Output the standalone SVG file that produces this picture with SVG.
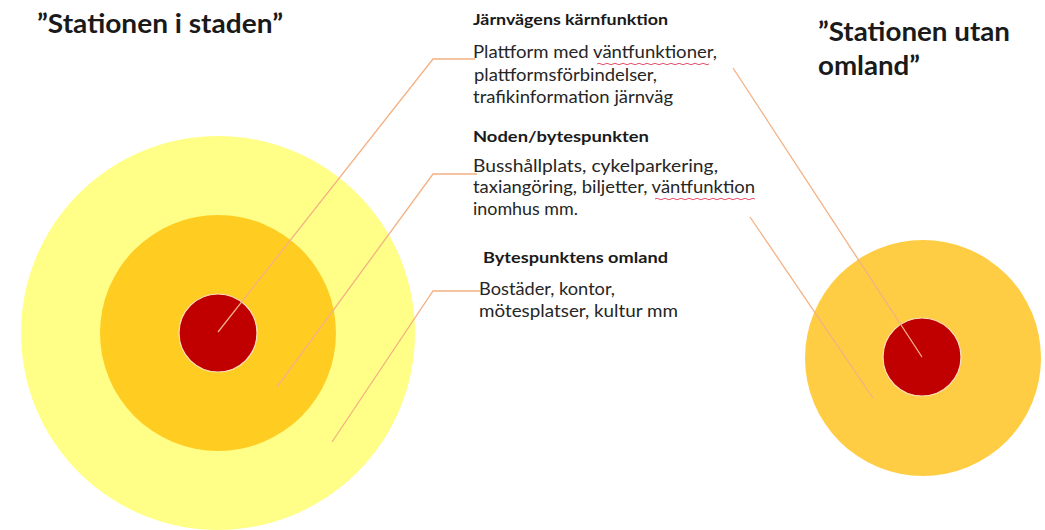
<svg xmlns="http://www.w3.org/2000/svg" width="1045" height="530" viewBox="0 0 1045 530">
<style>
.title{font-family:Lato,"Liberation Sans",sans-serif;font-weight:bold;font-size:26px;fill:#1a1a1a}
.head{font-family:Lato,"Liberation Sans",sans-serif;font-weight:bold;font-size:15px;fill:#1a1a1a}
.body{font-family:Lato,"Liberation Sans",sans-serif;font-size:16.5px;fill:#262626}
.leader{fill:none;stroke:#F4B183;stroke-width:1.3}
.squiggle{fill:none;stroke:#E8506A;stroke-width:1}
.core{fill:#C00000;stroke:#FBE0C0;stroke-width:1.2}
</style>
<rect width="1045" height="530" fill="#FFFFFF"/>
<g id="station-i-staden">
  <circle cx="218" cy="333" r="197" fill="#FFFF88"/>
  <circle cx="218" cy="333" r="118" fill="#FFCC22"/>
  <circle cx="218" cy="333" r="39" class="core"/>
</g>
<g id="station-utan-omland">
  <circle cx="923" cy="358" r="118" fill="#FFCD44"/>
  <circle cx="922" cy="357" r="39" class="core"/>
</g>
<g id="titles">
  <text class="title" x="37" y="33" textLength="246" lengthAdjust="spacingAndGlyphs">”Stationen i staden”</text>
  <text class="title" x="818" y="41" textLength="192" lengthAdjust="spacingAndGlyphs">”Stationen utan</text>
  <text class="title" x="818" y="75" textLength="102" lengthAdjust="spacingAndGlyphs">omland”</text>
</g>
<g id="label-karnfunktion">
  <text class="head" x="473" y="25" textLength="195" lengthAdjust="spacingAndGlyphs">Järnvägens kärnfunktion</text>
  <text class="body" x="473" y="58" textLength="244" lengthAdjust="spacingAndGlyphs">Plattform med väntfunktioner,</text>
  <text class="body" x="474" y="81" textLength="183" lengthAdjust="spacingAndGlyphs">plattformsförbindelser,</text>
  <text class="body" x="473" y="103" textLength="200" lengthAdjust="spacingAndGlyphs">trafikinformation järnväg</text>
  <path class="squiggle" d="M597 64 q2 -1.5 4 0 t4 0 t4 0 t4 0 t4 0 t4 0 t4 0 t4 0 t4 0 t4 0 t4 0 t4 0 t4 0 t4 0 t4 0 t4 0 t4 0 t4 0 t4 0 t4 0 t4 0 t4 0 t4 0 t4 0 t4 0 t4 0 t4 0 t4 0"/>
</g>
<g id="label-noden">
  <text class="head" x="473" y="142" textLength="176" lengthAdjust="spacingAndGlyphs">Noden/bytespunkten</text>
  <text class="body" x="473" y="172" textLength="245" lengthAdjust="spacingAndGlyphs">Busshållplats, cykelparkering,</text>
  <text class="body" x="473" y="193" textLength="282" lengthAdjust="spacingAndGlyphs">taxiangöring, biljetter, väntfunktion</text>
  <text class="body" x="473" y="215" textLength="105" lengthAdjust="spacingAndGlyphs">inomhus mm.</text>
  <path class="squiggle" d="M655 199 q2 -1.5 4 0 t4 0 t4 0 t4 0 t4 0 t4 0 t4 0 t4 0 t4 0 t4 0 t4 0 t4 0 t4 0 t4 0 t4 0 t4 0 t4 0 t4 0 t4 0 t4 0 t4 0 t4 0 t4 0 t4 0 t4 0"/>
</g>
<g id="label-omland">
  <text class="head" x="483" y="263" textLength="185" lengthAdjust="spacingAndGlyphs">Bytespunktens omland</text>
  <text class="body" x="479" y="295" textLength="136" lengthAdjust="spacingAndGlyphs">Bostäder, kontor,</text>
  <text class="body" x="479" y="317" textLength="199" lengthAdjust="spacingAndGlyphs">mötesplatser, kultur mm</text>
</g>
<g id="connectors">
  <polyline class="leader" points="475,59 433,59 218,332"/>
  <polyline class="leader" points="477,174 433,174 277,387"/>
  <polyline class="leader" points="480,291 433,291 332,442"/>
  <line class="leader" x1="733" y1="68" x2="922" y2="357"/>
  <line class="leader" x1="750" y1="217" x2="873" y2="398"/>
</g>
</svg>
